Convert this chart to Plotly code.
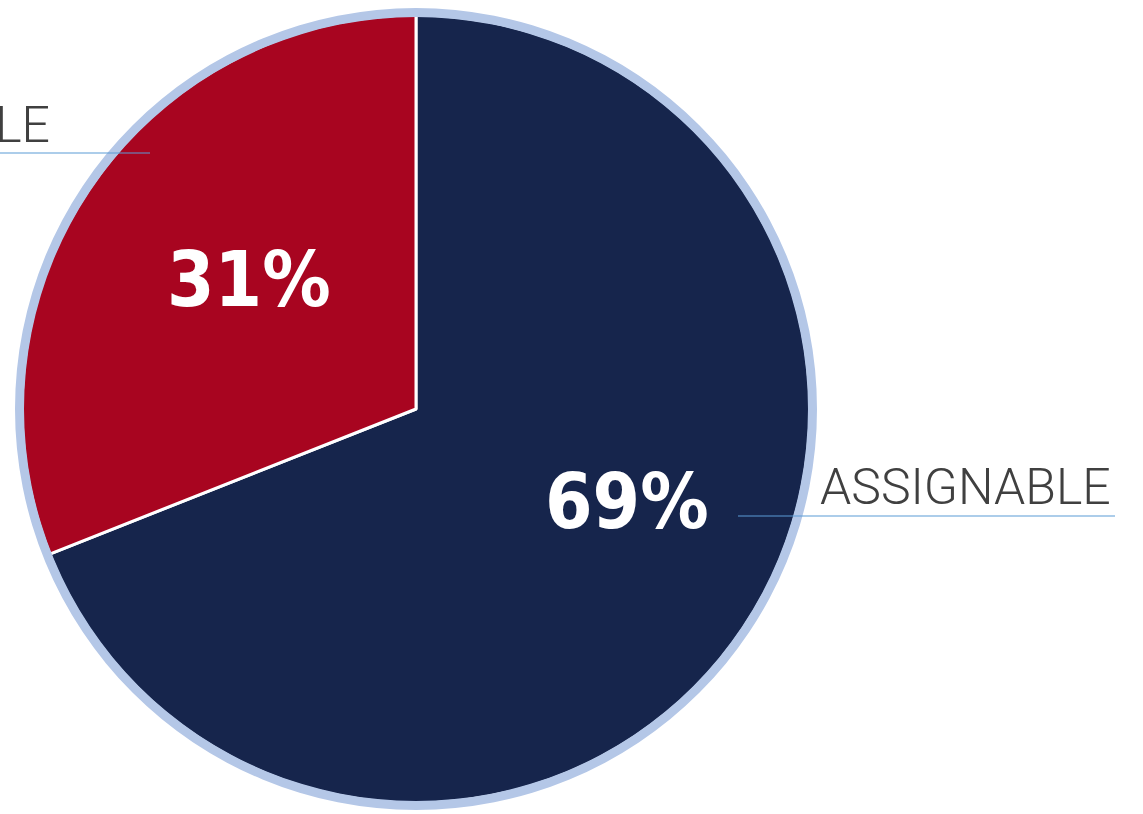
import plotly.graph_objects as go

categories = ["ASSIGNABLE", "NON-ASSIGNABLE"]
values = [69, 31]
pct_labels = ["69%", "31%"]

W, H = 1143, 814
cx, cy = 416, 409   # pie centre in pixels (from top-left)
r_in, r_out = 394, 401

def dom(r):
    return dict(x=[(cx - r) / W, (cx + r) / W], y=[(H - cy - r) / H, (H - cy + r) / H])

fig = go.Figure()
fig.add_trace(go.Pie(
    values=values, labels=categories, text=pct_labels, domain=dom(r_in),
    sort=False, direction="clockwise", rotation=0,
    marker=dict(colors=["#16254c", "#a80520"], line=dict(color="white", width=3)),
    textinfo="none", showlegend=False, hoverinfo="label+percent"))
# light-blue outer rim drawn on top as a thin ring
fig.add_trace(go.Pie(values=[1], labels=["rim"], domain=dom(r_out), sort=False,
                     hole=(r_in - 2) / r_out,
                     marker=dict(colors=["#b4c7e7"], line=dict(width=0)),
                     textinfo="none", hoverinfo="skip", showlegend=False))

pct_font = dict(family="DejaVu Sans Condensed, DejaVu Sans", size=76, color="white", weight="bold")
pct_pos = [(627, 502), (249, 279)]
for txt, (px, py) in zip(pct_labels, pct_pos):
    fig.add_annotation(text=txt, xref="paper", yref="paper", x=px / W, y=(H - py) / H,
                       xanchor="center", yanchor="middle", showarrow=False, font=pct_font)

label_font = dict(family="Roboto", size=50, color="#404040", weight=300)
fig.add_annotation(text=categories[0], xref="paper", yref="paper",
                   x=818 / W, y=(H - 487) / H, xanchor="left", yanchor="middle",
                   showarrow=False, font=label_font)
fig.add_annotation(text=categories[1], xref="paper", yref="paper",
                   x=52 / W, y=(H - 125) / H, xanchor="right", yanchor="middle",
                   showarrow=False, font=label_font)
line_style = dict(color="#5b9bd5", width=1.2)
fig.add_shape(type="line", xref="paper", yref="paper", x0=738 / W, x1=1115 / W,
              y0=(H - 516) / H, y1=(H - 516) / H, line=line_style)
fig.add_shape(type="line", xref="paper", yref="paper", x0=0, x1=150 / W,
              y0=(H - 153) / H, y1=(H - 153) / H, line=line_style)

fig.update_layout(width=W, height=H, margin=dict(l=0, r=0, t=0, b=0),
                  paper_bgcolor="white", plot_bgcolor="white")
fig.write_html("out.html")
